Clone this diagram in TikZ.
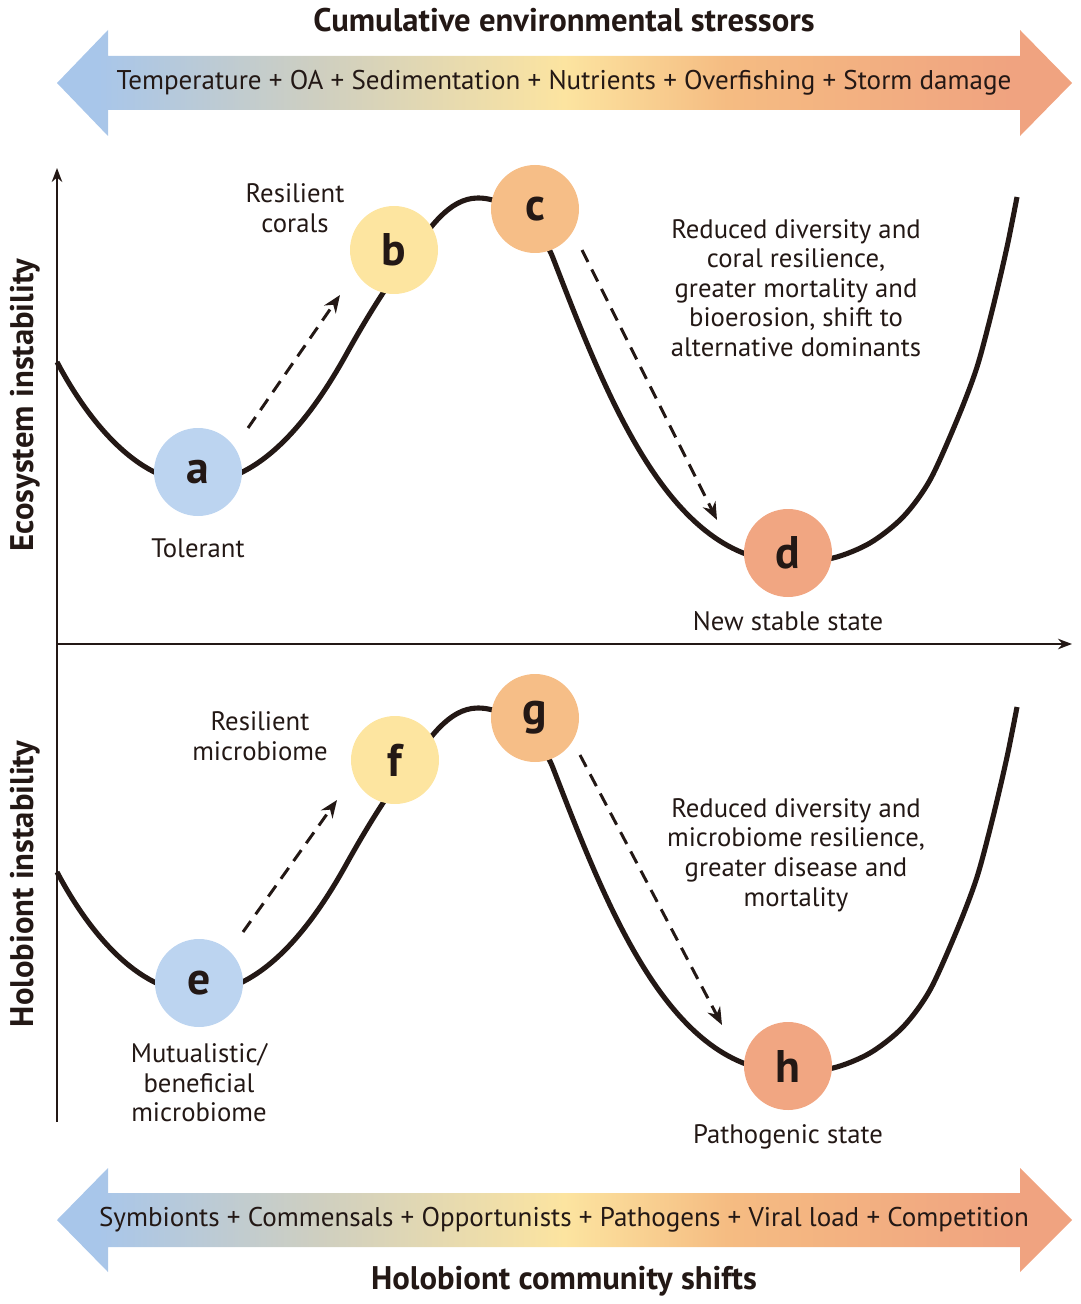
\documentclass[tikz,border=0pt]{standalone}
\usepackage{fontspec}
\setmainfont{PT Sans}
\usetikzlibrary{calc,arrows.meta}
\definecolor{stateblue}{RGB}{188,212,240}
\definecolor{stateyellow}{RGB}{253,229,160}
\definecolor{stateorange}{RGB}{246,190,135}
\definecolor{statesalmon}{RGB}{241,166,130}
\definecolor{gradblue}{RGB}{168,198,234}
\definecolor{gradgrey}{RGB}{207,207,192}
\definecolor{gradyellow}{RGB}{252,228,160}
\definecolor{gradorange}{RGB}{245,188,130}
\definecolor{gradsalmon}{RGB}{240,163,128}
\definecolor{inkblack}{RGB}{35,24,21}
\pgfdeclarehorizontalshading{stressgrad}{100bp}{color(0bp)=(gradblue); color(27bp)=(gradblue); color(38bp)=(gradgrey); color(50bp)=(gradyellow); color(58bp)=(gradorange); color(72bp)=(gradsalmon); color(100bp)=(gradsalmon)}
\def\valley{(57,362) .. controls (86,417) and (136,483) .. (198,483) .. controls (264,483) and (315,411) .. (347,353) .. controls (366,319) and (386,286) .. (410,255) .. controls (428,231) and (448,198) .. (478,198) .. controls (510,198) and (541.5,228) .. (553,258) .. controls (607,397.5) and (670,562) .. (790,562) -- plot[smooth, tension=0.5] coordinates {(790,562) (833,558) (870,543) (903,517) (930,480) (957,420) (977,367) (993,307) (1007,247) (1017,197)}}

\begin{document}
\begin{tikzpicture}[x=0.1mm, y=-0.1mm,
	state/.style={circle, minimum size=8.8mm, inner sep=0pt, text=inkblack, font=\fontsize{13}{13}\selectfont\bfseries},
	desc/.style={align=center, text=inkblack, font=\fontsize{7.6}{8.4}\selectfont},
	bartext/.style={text=inkblack, font=\fontsize{7.7}{8.4}\selectfont},
	headline/.style={text=inkblack, font=\fontsize{9.3}{10}\selectfont\bfseries},
	axisline/.style={line width=0.55pt, draw=inkblack, -{Stealth[length=4pt, width=3pt]}},
	valleyline/.style={line width=1.45pt, draw=inkblack},
	shiftarrow/.style={line width=0.85pt, draw=inkblack, dash pattern=on 3.8pt off 2.4pt, -{Stealth[length=5pt, width=4pt]}}]
	%%%%% START %%%%%
	
	\useasboundingbox (0,0) rectangle (1080,1304);
	
	% top bar
	\shade[shading=stressgrad] (57,83) -- (108,30) -- (108,56) -- (1020,56) -- (1020,30) -- (1072,83) -- (1020,136) -- (1020,110) -- (108,110) -- (108,136) -- cycle;
	\node[headline] (stressors) at (564,20) {Cumulative environmental stressors};
	\node[bartext] (stresslist) at (564,83) {Temperature + OA + Sedimentation + Nutrients + Overfishing + Storm damage};
	
	% axes
	\coordinate (origin) at (57,644);
	\coordinate (ytop) at (57,168);
	\coordinate (ybottom) at (57,1122);
	\coordinate (xend) at (1072,644);
	\draw[axisline] (ybottom) -- (ytop);
	\draw[axisline] (origin) -- (xend);
	\node[headline, rotate=90] (ecolabel) at (25,405) {Ecosystem instability};
	\node[headline, rotate=90] (hololabel) at (25,884) {Holobiont instability};
	
	% landscapes
	\draw[valleyline] \valley;
	\draw[valleyline, shift={(0,510)}] \valley;
	
	% ecosystem states
	\node[state, fill=stateblue] (a) at (198,472) {a};
	\node[state, fill=stateyellow] (b) at (394,250) {b};
	\node[state, fill=stateorange] (c) at (535,209) {c};
	\node[state, fill=statesalmon] (d) at (788,553) {d};
	\draw[shiftarrow] ($(a)+(50,-44)$) -- ($(b)+(-54,45)$);
	\draw[shiftarrow] ($(c)+(47,41)$) -- ($(d)+(-71,-33)$);
	\node[desc] (tolerant) at (198,548) {Tolerant};
	\node[desc] (rescorals) at (295,208) {Resilient\\corals};
	\node[desc] (coraldecline) at (796,288) {Reduced diversity and\\coral resilience,\\greater mortality and\\bioerosion, shift to\\alternative dominants};
	\node[desc] (newstable) at (788,621) {New stable state};
	
	% holobiont states
	\node[state, fill=stateblue] (e) at (199,983) {e};
	\node[state, fill=stateyellow] (f) at (395,760) {f};
	\node[state, fill=stateorange] (g) at (535,718) {g};
	\node[state, fill=statesalmon] (h) at (788,1066) {h};
	\draw[shiftarrow] ($(e)+(44,-51)$) -- ($(f)+(-58,40)$);
	\draw[shiftarrow] ($(g)+(45,37)$) -- ($(h)+(-66,-41)$);
	\node[desc] (mutual) at (199,1083) {Mutualistic/\\beneficial\\microbiome};
	\node[desc] (resmicro) at (260,736) {Resilient\\microbiome};
	\node[desc] (microdecline) at (796,855) {Reduced diversity and\\microbiome resilience,\\greater disease and\\mortality};
	\node[desc] (pathogenic) at (788,1137) {Pathogenic state};
	
	% bottom bar
	\shade[shading=stressgrad] (57,1220) -- (108,1168) -- (108,1193) -- (1020,1193) -- (1020,1168) -- (1072,1220) -- (1020,1272) -- (1020,1247) -- (108,1247) -- (108,1272) -- cycle;
	\node[bartext] (shiftlist) at (564,1220) {Symbionts + Commensals + Opportunists + Pathogens + Viral load + Competition};
	\node[headline] (holoshifts) at (564,1281) {Holobiont community shifts};
	
	%%%%% END %%%%%
\end{tikzpicture}
\end{document}
